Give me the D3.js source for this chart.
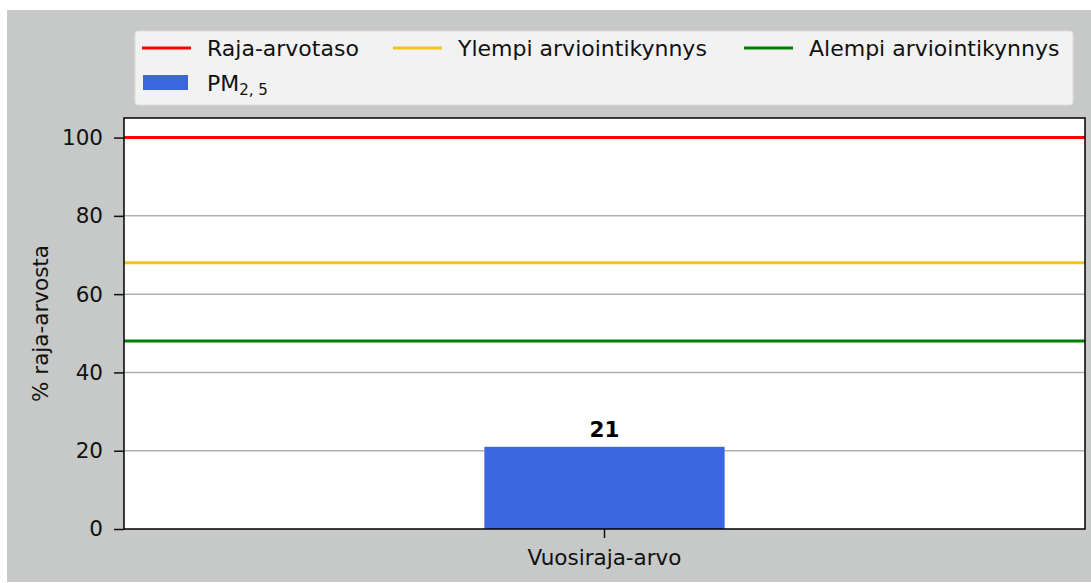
<!DOCTYPE html>
<html>
<head>
<meta charset="utf-8">
<script src="https://cdn.jsdelivr.net/npm/d3@7"></script>
<style>
  body { margin: 0; background: #fff; }
  svg { display: block; font-family: "DejaVu Sans", sans-serif; }
</style>
</head>
<body>
<div id="vis"></div>
<script>
// chart data
const categories = ["Vuosiraja-arvo"];
const pmValues = [21];
const thresholdNames = ["Raja-arvotaso", "Ylempi arviointikynnys", "Alempi arviointikynnys"];
const thresholdValues = [100, 68, 48];
const thresholdColors = ["#ff0000", "#f2c51a", "#008000"];
const yTicks = [0, 20, 40, 60, 80, 100];

const FRAME_WIDTH = 1091;
const FRAME_HEIGHT = 583;
const MARGINS = {left: 124, right: 6, top: 118, bottom: 54};
const VIS_WIDTH = FRAME_WIDTH - MARGINS.left - MARGINS.right;
const VIS_HEIGHT = FRAME_HEIGHT - MARGINS.top - MARGINS.bottom;
const FONT = "21.5px";
const LEGEND_FONT = "22px";

const FRAME = d3.select("#vis")
  .append("svg")
  .attr("width", FRAME_WIDTH)
  .attr("height", FRAME_HEIGHT);

// grey figure background
FRAME.append("rect")
  .attr("x", 7).attr("y", 10)
  .attr("width", FRAME_WIDTH - 7).attr("height", FRAME_HEIGHT - 11)
  .attr("fill", "#c6c9c8");

const X_SCALE = d3.scaleBand()
  .domain(categories)
  .range([0, VIS_WIDTH])
  .paddingInner(0)
  .paddingOuter(1.5);

const Y_SCALE = d3.scaleLinear()
  .domain([0, 105])
  .range([VIS_HEIGHT, 0]);

const plot = FRAME.append("g")
  .attr("transform", "translate(" + MARGINS.left + "," + MARGINS.top + ")");

plot.append("rect")
  .attr("width", VIS_WIDTH).attr("height", VIS_HEIGHT)
  .attr("fill", "#ffffff");

// grid lines
plot.selectAll(".grid")
  .data(yTicks.filter(t => t > 0))
  .enter()
  .append("line")
  .attr("x1", 0).attr("x2", VIS_WIDTH)
  .attr("y1", d => Y_SCALE(d)).attr("y2", d => Y_SCALE(d))
  .attr("stroke", "#b0b0b0")
  .attr("stroke-width", 1.5);

// bar
plot.selectAll(".bar")
  .data(pmValues)
  .enter()
  .append("rect")
  .attr("x", (d, i) => X_SCALE(categories[i]))
  .attr("y", d => Y_SCALE(d))
  .attr("width", X_SCALE.bandwidth())
  .attr("height", d => VIS_HEIGHT - Y_SCALE(d))
  .attr("fill", "#3c65e0");

plot.selectAll(".barlabel")
  .data(pmValues)
  .enter()
  .append("text")
  .attr("x", (d, i) => X_SCALE(categories[i]) + X_SCALE.bandwidth() / 2)
  .attr("y", d => Y_SCALE(d) - 10)
  .attr("text-anchor", "middle")
  .attr("font-size", FONT)
  .attr("font-weight", "bold")
  .text(d => d);

// threshold lines
plot.selectAll(".thr")
  .data(thresholdValues)
  .enter()
  .append("line")
  .attr("x1", 0).attr("x2", VIS_WIDTH)
  .attr("y1", d => Y_SCALE(d)).attr("y2", d => Y_SCALE(d))
  .attr("stroke", (d, i) => thresholdColors[i])
  .attr("stroke-width", 3);

// axes
const yAxis = plot.append("g")
  .call(d3.axisLeft(Y_SCALE).tickValues(yTicks).tickSize(10).tickPadding(11));
const xAxis = plot.append("g")
  .attr("transform", "translate(0," + VIS_HEIGHT + ")")
  .call(d3.axisBottom(X_SCALE).tickSize(9).tickPadding(12));
[yAxis, xAxis].forEach(a => {
  a.select(".domain").remove();
  a.selectAll("text").attr("font-size", FONT).attr("fill", "#111")
    .attr("font-family", "DejaVu Sans, sans-serif");
  a.selectAll("line").attr("stroke", "#111").attr("stroke-width", 1.5);
});

// frame border
plot.append("rect")
  .attr("width", VIS_WIDTH).attr("height", VIS_HEIGHT)
  .attr("fill", "none")
  .attr("stroke", "#000")
  .attr("stroke-width", 1.5);

// y label
FRAME.append("text")
  .attr("transform", "translate(48," + (MARGINS.top + VIS_HEIGHT / 2) + ") rotate(-90)")
  .attr("text-anchor", "middle")
  .attr("font-size", FONT)
  .attr("fill", "#111")
  .text("% raja-arvosta");

// legend
const legend = FRAME.append("g");
legend.append("rect")
  .attr("x", 135).attr("y", 31)
  .attr("width", 938).attr("height", 74)
  .attr("rx", 3)
  .attr("fill", "#f2f2f2")
  .attr("stroke", "#dcdcdc");

const legX = [142, 393, 744];
thresholdNames.forEach((name, i) => {
  legend.append("line")
    .attr("x1", legX[i]).attr("x2", legX[i] + 49)
    .attr("y1", 48).attr("y2", 48)
    .attr("stroke", thresholdColors[i])
    .attr("stroke-width", 3);
  legend.append("text")
    .attr("x", legX[i] + 65).attr("y", 56)
    .attr("font-size", LEGEND_FONT)
    .attr("fill", "#111")
    .text(name);
});

legend.append("rect")
  .attr("x", 143).attr("y", 75)
  .attr("width", 45).attr("height", 15)
  .attr("fill", "#3c65e0");
const pmText = legend.append("text")
  .attr("x", 207).attr("y", 91)
  .attr("font-size", LEGEND_FONT)
  .attr("fill", "#111");
pmText.append("tspan").text("PM");
pmText.append("tspan").attr("font-size", "15px").attr("dy", 4).text("2, 5");
</script>
</body>
</html>
